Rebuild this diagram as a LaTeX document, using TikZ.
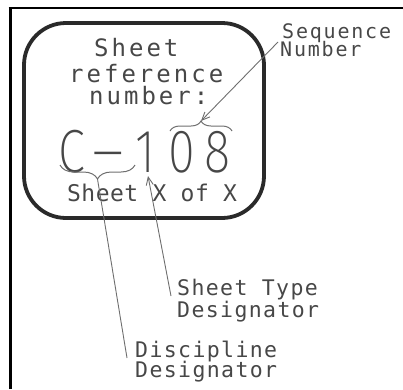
\documentclass[tikz,border=0pt]{standalone}
\usepackage{fontspec}
\usetikzlibrary{arrows.meta,decorations.pathreplacing}
\newfontfamily\cadfont{DejaVu Sans Mono}
\newfontfamily\bigfont{Fira Sans ExtraLight}
\definecolor{txtc}{HTML}{474747}
\definecolor{leadc}{HTML}{6E6E6E}
\definecolor{boxc}{HTML}{2A2A2A}
\newcommand\bigcell[2][0.8]{\makebox[36.5pt][c]{\scalebox{#1}[1]{#2}}}
\tikzset{
  ttl/.style={inner sep=0pt, text=txtc, font=\cadfont\fontsize{24}{24}\selectfont\addfontfeature{LetterSpace=12.5}},
  sub/.style={inner sep=0pt, text=txtc, font=\cadfont\fontsize{23}{23}\selectfont\addfontfeature{LetterSpace=2}},
  lbl/.style={inner sep=0pt, text=txtc, font=\cadfont\fontsize{21.5}{21.5}\selectfont\addfontfeature{LetterSpace=6.5}},
  slbl/.style={inner sep=0pt, text=txtc, font=\cadfont\fontsize{20}{20}\selectfont\addfontfeature{LetterSpace=9}},
  bigtxt/.style={inner sep=0pt, text=txtc, font=\bigfont\fontsize{61}{61}\selectfont},
  lead/.style={draw=leadc, line width=0.9pt},
  tipped/.style={lead, -{Straight Barb[length=8pt,width=7pt,line width=0.9pt]}},
  bracestyle/.style={draw=leadc, line width=1pt, decorate},
}
\begin{document}
\begin{tikzpicture}[x=1pt,y=-1pt]
\useasboundingbox (0,0) rectangle (403,389);
% outer frame
\coordinate (fbl) at (10,389);
\coordinate (ftl) at (10,7.5);
\coordinate (ftr) at (403,7.5);
\draw[line width=3pt] (fbl) -- (ftl);
\draw[line width=2pt] ([xshift=-1.5pt]ftl) -- (ftr);
% rounded box
\node[name=box, draw=boxc, line width=3.8pt, rounded corners=42pt,
      minimum width=240pt, minimum height=195pt, inner sep=0pt] at (144,120.5) {};
% title
\node[ttl, anchor=base west] (t1) at (94,56) {Sheet};
\node[ttl, anchor=base west] (t2) at (69,82) {reference};
\node[ttl, anchor=base west] (t3) at (89,104) {number:};
% big number
\node[bigtxt, anchor=base west] (num) at (53.5,172) {\bigcell{C}\bigcell[1.7]{-}\bigcell{1}\bigcell{0}\bigcell{8}};
\node[sub, anchor=base west] (sxx) at (67,201) {Sheet X of X};
% labels
\node[slbl, anchor=base west] (seq1) at (282,38) {Sequence};
\node[slbl, anchor=base west] (seq2) at (280,56) {Number};
\node[lbl, anchor=base west] (st1) at (177,295) {Sheet Type};
\node[lbl, anchor=base west] (st2) at (177,317) {Designator};
\node[lbl, anchor=base west] (dd1) at (135,357) {Discipline};
\node[lbl, anchor=base west] (dd2) at (135,377) {Designator};
% braces
\coordinate (b1s) at (135,165);
\coordinate (b1e) at (60,165);
\draw[bracestyle, decoration={brace, amplitude=14pt}] (b1s) -- (b1e);
\coordinate (b2s) at (170,131);
\coordinate (b2e) at (232,131);
\draw[bracestyle, decoration={brace, amplitude=10pt}] (b2s) -- (b2e);
% leaders
\coordinate (tipC) at (97.5,179);
\coordinate (dend) at (127,358);
\draw[lead] (tipC) -- (dend);
\coordinate (oneb) at (148,176);
\coordinate (send) at (171,296);
\draw[tipped] (send) -- (oneb);
\coordinate (tip08) at (201,121);
\coordinate (qstart) at (278,42);
\draw[tipped] (qstart) -- (tip08);
\end{tikzpicture}
\end{document}
